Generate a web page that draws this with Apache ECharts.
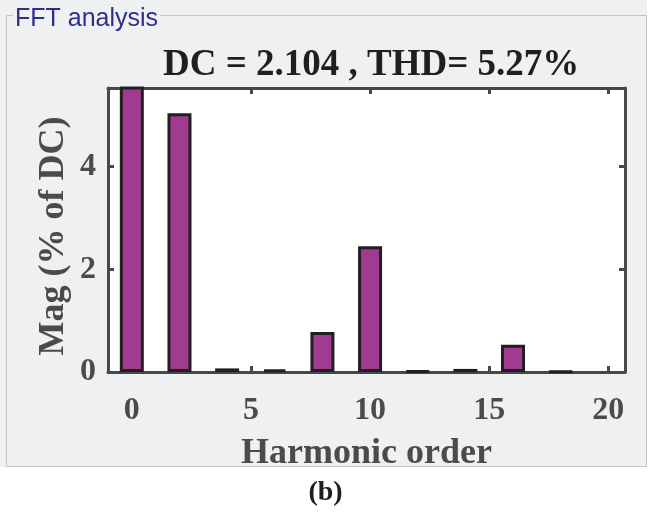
<!DOCTYPE html>
<html>
<head>
<meta charset="utf-8">
<script src="https://cdn.jsdelivr.net/npm/echarts@6/dist/echarts.min.js"></script>
<style>
  html, body { margin: 0; padding: 0; background: #ffffff; }
  #chart { width: 651px; height: 515px; }
</style>
</head>
<body>
<div id="chart"></div>
<script>
// Harmonic spectrum (magnitude in % of DC)
const harmonicOrders = [0, 2, 4, 6, 8, 10, 12, 14, 16, 18];
const magnitudes = [100, 5.04, 0.07, 0.05, 0.78, 2.45, 0.02, 0.06, 0.53, 0.01];
const xTicks = [0, 5, 10, 15, 20];
const yTicks = [0, 2, 4];
const titleText = 'DC = 2.104 , THD= 5.27%';

const serif = '"Liberation Serif", "Times New Roman", serif';
const axisGray = '#464849';
const labelGray = '#4a4b4d';

const chart = echarts.init(document.getElementById('chart'), null, { renderer: 'canvas' });

const hiddenMirror = {
  axisLine: { show: false },
  axisLabel: { show: false },
  splitLine: { show: false }
};

chart.setOption({
  animation: false,
  backgroundColor: '#ffffff',
  graphic: [
    { type: 'rect', z: -10, shape: { x: 0, y: 0, width: 647, height: 467 }, style: { fill: '#eff0f2' } },
    { type: 'rect', z: -9, shape: { x: 6.5, y: 15.5, width: 640, height: 451 }, style: { fill: 'none', stroke: '#c4c4c4', lineWidth: 1 } },
    { type: 'text', z: -8, left: 13, top: 7, style: { text: 'FFT analysis', font: '25px "Liberation Sans", Arial, sans-serif', fill: '#2b2f8f', backgroundColor: '#eff0f2', padding: [0, 2, 0, 2] } },
    { type: 'text', left: 'center', top: 479, style: { text: '(b)', font: 'bold 28px ' + serif, fill: '#1e1e1e' } }
  ],
  title: {
    text: titleText,
    left: 158,
    top: 42,
    textStyle: { fontFamily: '"Liberation Serif", "Times New Roman", serif', fontWeight: 'bold', fontSize: 37, color: '#1f1f1f' }
  },
  grid: { left: 108, right: 26, top: 88, bottom: 143, show: true, backgroundColor: '#ffffff', borderWidth: 0 },
  xAxis: [
    {
      type: 'value', min: -1, max: 20.7, position: 'bottom',
      name: 'Harmonic order', nameLocation: 'middle', nameGap: 64, nameMoveOverlap: false,
      nameTextStyle: { fontFamily: serif, fontWeight: 'bold', fontSize: 36, color: labelGray, verticalAlign: 'top' },
      axisLine: { show: true, onZero: false, lineStyle: { color: axisGray, width: 3 } },
      axisTick: { show: true, inside: true, length: 6, customValues: xTicks, lineStyle: { color: axisGray, width: 3 } },
      axisLabel: { show: true, customValues: xTicks, margin: 23, fontFamily: serif, fontWeight: 'bold', fontSize: 32, color: labelGray },
      splitLine: { show: false }
    },
    Object.assign({
      type: 'value', min: -1, max: 20.7, position: 'top',
      axisTick: { show: true, inside: true, length: 6, customValues: xTicks, lineStyle: { color: axisGray, width: 3 } }
    }, hiddenMirror, { axisLine: { show: true, onZero: false, lineStyle: { color: axisGray, width: 3 } } })
  ],
  yAxis: [
    {
      type: 'value', min: 0, max: 5.53, position: 'left',
      name: 'Mag (% of DC)', nameLocation: 'middle', nameGap: 36, nameMoveOverlap: false,
      nameTextStyle: { fontFamily: serif, fontWeight: 'bold', fontSize: 36, color: labelGray, padding: [0, 12, 0, 0] },
      axisLine: { show: true, onZero: false, lineStyle: { color: axisGray, width: 3 } },
      axisTick: { show: true, inside: true, length: 6, customValues: yTicks, lineStyle: { color: axisGray, width: 3 } },
      axisLabel: { show: true, customValues: yTicks, margin: 12, fontFamily: serif, fontWeight: 'bold', fontSize: 32, color: labelGray },
      splitLine: { show: false }
    },
    Object.assign({
      type: 'value', min: 0, max: 5.53, position: 'right',
      axisTick: { show: true, inside: true, length: 6, customValues: yTicks, lineStyle: { color: axisGray, width: 3 } }
    }, hiddenMirror, { axisLine: { show: true, onZero: false, lineStyle: { color: axisGray, width: 3 } } })
  ],
  series: [{
    type: 'bar',
    xAxisIndex: 0,
    yAxisIndex: 0,
    clip: true,
    barWidth: 24,
    data: harmonicOrders.map((h, i) => [h, magnitudes[i]]),
    itemStyle: { color: '#a13b92', borderColor: '#231f20', borderWidth: 3 },
    z: 1
  }]
});
</script>
</body>
</html>
